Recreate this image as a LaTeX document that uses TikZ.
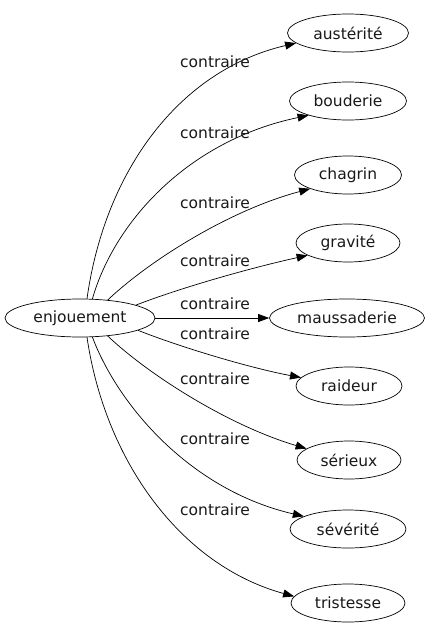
\documentclass[tikz,border=0pt]{standalone}
\usepackage{fontspec}
\setmainfont{DejaVu Sans}
\usetikzlibrary{shapes.geometric,arrows.meta}
\begin{document}
\begin{tikzpicture}[x=1pt,y=-1pt,
  term/.style={draw,ellipse,inner sep=0pt,line width=0.7pt,minimum height=38pt,font=\fontsize{15.5}{15.5}\selectfont,text=black!90},
  rel/.style={-{Triangle[length=11pt,width=8pt]},line width=0.7pt},
  lab/.style={font=\fontsize{15.5}{15.5}\selectfont,text=black!90}]
\fill[white] (0,0) rectangle (431,635);
\useasboundingbox (0,0) rectangle (431,635);
\node[term,minimum width=150pt] (e) at (80,318) {enjouement};
\node[term,minimum width=121pt] (a) at (348,33) {austérité};
\node[term,minimum width=117pt] (b) at (348,101) {bouderie};
\node[term,minimum width=107pt] (c) at (348,175) {chagrin};
\node[term,minimum width=104pt] (g) at (348,243) {gravité};
\node[term,minimum width=155pt] (m) at (347,318) {maussaderie};
\node[term,minimum width=106pt] (r) at (349,386) {raideur};
\node[term,minimum width=104pt] (s) at (349,460) {sérieux};
\node[term,minimum width=116pt] (v) at (348,529) {sévérité};
\node[term,minimum width=114pt] (t) at (348,603) {tristesse};
\draw[rel] (e.70) .. controls (105,170) and (180,70) .. (a.191);
\draw[rel] (e.57) .. controls (115,220) and (190,140) .. (b.200);
\draw[rel] (e.33) .. controls (150,260) and (230,210) .. (c.200);
\draw[rel] (e.13) .. controls (180,288) and (250,268) .. (g.197);
\draw[rel] (e) -- (m);
\draw[rel] (e.-12) .. controls (180,347) and (250,368) .. (r.170);
\draw[rel] (e.-33) .. controls (150,376) and (230,426) .. (s.165);
\draw[rel] (e.-57) .. controls (118,405) and (190,490) .. (v.164);
\draw[rel] (e.-70) .. controls (105,460) and (180,565) .. (t.173);
\node[lab] (l1) at (215,62) {contraire};
\node[lab] (l2) at (215,133) {contraire};
\node[lab] (l3) at (215,203) {contraire};
\node[lab] (l4) at (215,261) {contraire};
\node[lab] (l5) at (215,304) {contraire};
\node[lab] (l6) at (215,334) {contraire};
\node[lab] (l7) at (215,379) {contraire};
\node[lab] (l8) at (215,439) {contraire};
\node[lab] (l9) at (215,510) {contraire};
\end{tikzpicture}
\end{document}
